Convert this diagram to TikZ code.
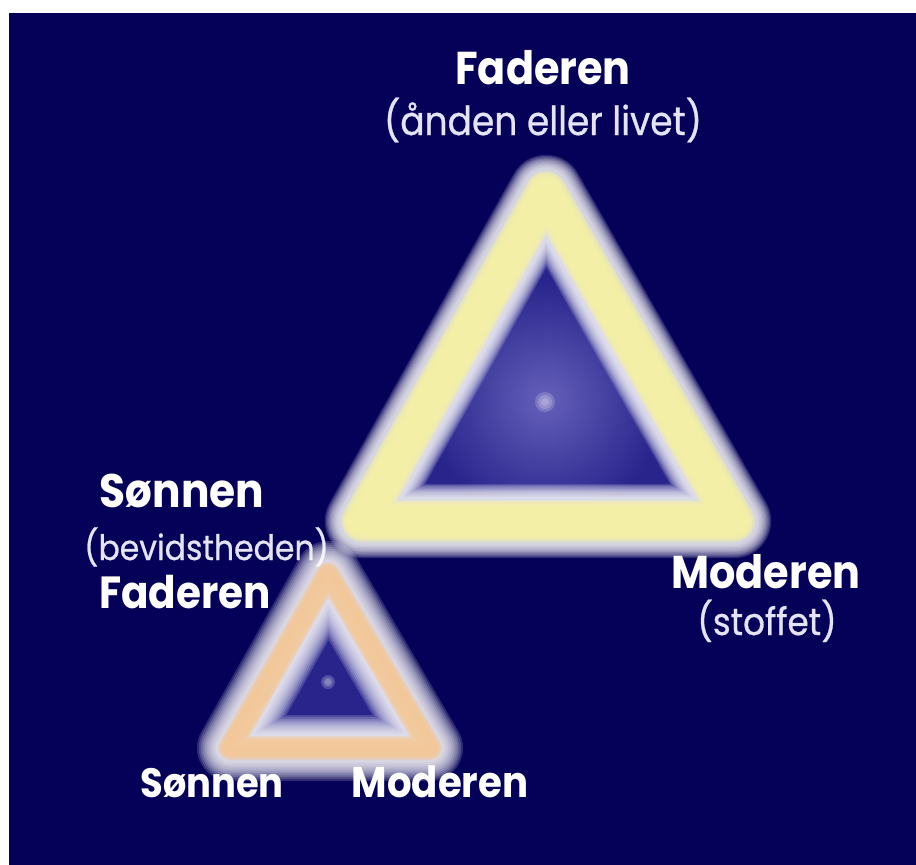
\documentclass[tikz,border=0pt]{standalone}
\usepackage{fontspec}
\setmainfont{Poppins}[FakeStretch=0.9]
\newfontfamily\subfont{Poppins}[FakeStretch=0.9, FakeBold=0.7]
\usetikzlibrary{positioning, calc}
\definecolor{bgNavy}{RGB}{5,0,88}
\definecolor{bandYellow}{RGB}{246,242,165}
\definecolor{bandPeach}{RGB}{246,200,148}
\definecolor{innerBlue}{RGB}{40,36,140}
\definecolor{innerLight}{RGB}{100,96,185}
\definecolor{subText}{RGB}{228,228,246}
\tikzset{
  lblbold/.style={text=white, anchor=base, inner sep=0pt,
                  font=\bfseries\fontsize{45}{50}\selectfont},
  lblbig/.style={lblbold, font=\bfseries\fontsize{46}{52}\selectfont},
  lblsmall/.style={lblbold, font=\bfseries\fontsize{41}{44}\selectfont},
  lblsub/.style={text=subText, anchor=base, inner sep=0pt,
                 font=\subfont\fontsize{40}{44}\selectfont},
  tri/.style={line join=round, line cap=round},
}

\begin{document}
\begin{tikzpicture}[x=1pt, y=-1pt]
  \useasboundingbox (0,0) rectangle (916,865);
  \fill[white] (0,0) rectangle (916,865);
  \fill[bgNavy] (9,13) rectangle (916,865);

  % corners of the two triangles
  \coordinate (bigTop) at (546,192);
  \coordinate (bigLeft) at (362,521);
  \coordinate (bigRight) at (734,521);
  \coordinate (smTop) at (328,574);
  \coordinate (smLeft) at (230,748);
  \coordinate (smRight) at (430,748);

  % labels
  \node[lblbig] (topFader) at (543,84) {Faderen};
  \node[lblsub] (topSub) at (543,135) {(ånden eller livet)};
  \node[lblbig, font=\bfseries\fontsize{47}{52}\selectfont]
    (leftSon) at (182,507) {Sønnen};
  \node[lblsub, anchor=base west, font=\subfont\fontsize{35}{40}\selectfont]
    (leftSub) at (84,560) {(bevidstheden)};
  \node[lblbold] (leftFader) at (185,608) {Faderen};
  \node[lblbig] (rightMother) at (766,588) {Moderen};
  \node[lblsub, font=\subfont\fontsize{38}{42}\selectfont]
    (rightSub) at (767,635) {(stoffet)};
  \node[lblsmall] (botSon) at (212,797) {Sønnen};
  \node[lblsmall, font=\bfseries\fontsize{43}{46}\selectfont]
    (botMother) at (440,797) {Moderen};

  % big triangle
  \fill[innerBlue] (bigTop) -- (bigLeft) -- (bigRight) -- cycle;
  \begin{scope}
    \clip (bigTop) -- (bigLeft) -- (bigRight) -- cycle;
    \shade[inner color=innerLight, outer color=innerBlue] (545,400) circle (120);
  \end{scope}
  \foreach \k [evaluate=\k as \lw using 48+2.4*(12-\k)] in {1,...,12}
    \draw[tri, white, opacity=0.14, line width=\lw pt]
      (bigTop) -- (bigLeft) -- (bigRight) -- cycle;
  \foreach \k [evaluate=\k as \lw using 28+2*(8-\k)] in {1,...,8}
    \draw[tri, bandYellow, opacity=0.32, line width=\lw pt]
      (bigTop) -- (bigLeft) -- (bigRight) -- cycle;
  \foreach \r in {10,7,4}
    \fill[white, opacity=0.18] (545,402) circle (\r);

  % small triangle
  \fill[innerBlue] (smTop) -- (smLeft) -- (smRight) -- cycle;
  \foreach \k [evaluate=\k as \lw using 28+3.8*(11-\k)] in {1,...,11}
    \draw[tri, white, opacity=0.16, line width=\lw pt]
      (smTop) -- (smLeft) -- (smRight) -- cycle;
  \foreach \k [evaluate=\k as \lw using 14+2*(6-\k)] in {1,...,6}
    \draw[tri, bandPeach, opacity=0.32, line width=\lw pt]
      (smTop) -- (smLeft) -- (smRight) -- cycle;
  \foreach \r in {7,5,3}
    \fill[white, opacity=0.18] (328,682) circle (\r);
\end{tikzpicture}
\end{document}
